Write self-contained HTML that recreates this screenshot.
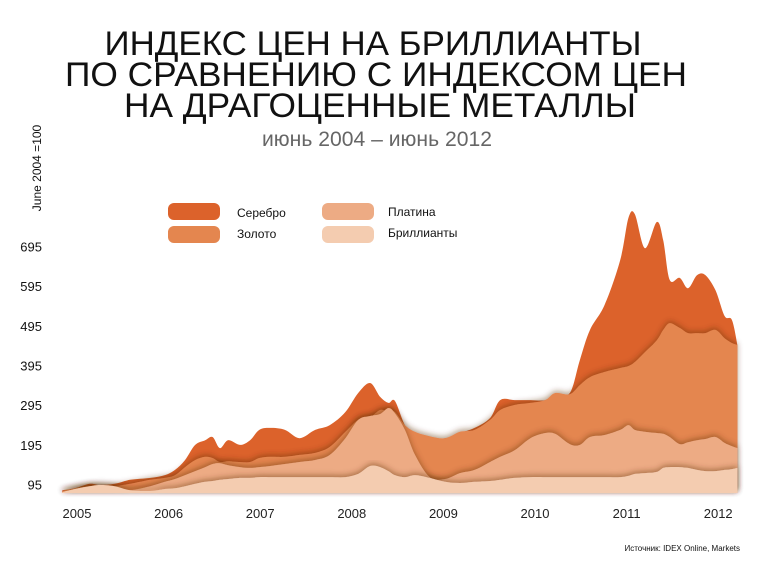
<!DOCTYPE html>
<html><head><meta charset="utf-8"><style>
html,body{margin:0;padding:0;background:#fff;}
svg{display:block;font-family:"Liberation Sans","Noto Sans CJK SC",sans-serif;}
</style></head><body>
<svg id="chart" width="757" height="567" viewBox="0 0 757 567">
<defs>
<filter id="sh" x="-5%" y="-20%" width="110%" height="140%">
<feDropShadow dx="0" dy="-2" stdDeviation="3" flood-color="#5a2a10" flood-opacity="0.45"/>
</filter>
</defs>
<g fill="#111" font-size="34" text-anchor="middle">
<text x="373" y="55" textLength="537" lengthAdjust="spacingAndGlyphs">ИНДЕКС ЦЕН НА БРИЛЛИАНТЫ</text>
<text x="376" y="86" textLength="622" lengthAdjust="spacingAndGlyphs">ПО СРАВНЕНИЮ С ИНДЕКСОМ ЦЕН</text>
<text x="380" y="117" textLength="512" lengthAdjust="spacingAndGlyphs">НА ДРАГОЦЕННЫЕ МЕТАЛЛЫ</text>
</g>
<text x="377" y="146" font-size="21" fill="#666" text-anchor="middle" textLength="230" lengthAdjust="spacingAndGlyphs">июнь 2004 – июнь 2012</text>
<text transform="translate(41,168) rotate(-90)" font-size="12" fill="#111" text-anchor="middle">June 2004 =100</text>
<g id="yticks"></g>
<g id="xticks"></g>
<g id="areas"></g>
<g font-size="12" fill="#111">
<g><rect x="168" y="203" width="52" height="17" rx="6" fill="#dc622b"/><text x="237" y="217">Серебро</text></g>
<g><rect x="168" y="226" width="52" height="17" rx="6" fill="#e4864f"/><text x="237" y="238">Золото</text></g>
<g><rect x="322" y="203" width="52" height="17" rx="6" fill="#edab84"/><text x="388" y="216">Платина</text></g>
<g><rect x="322" y="226" width="52" height="17" rx="6" fill="#f4ccb0"/><text x="388" y="237">Бриллианты</text></g>
</g>
<text x="740" y="551" font-size="8" fill="#111" text-anchor="end">Источник: IDEX Online, Markets</text>
</svg>
<script>
const dates=[2004.84,2004.98,2005.14,2005.25,2005.41,2005.58,2005.80,2005.96,2006.07,2006.18,2006.29,2006.40,2006.48,2006.56,2006.65,2006.78,2006.89,2006.99,2007.11,2007.27,2007.43,2007.60,2007.76,2007.93,2008.07,2008.20,2008.31,2008.40,2008.47,2008.58,2008.69,2008.85,2009.02,2009.18,2009.34,2009.51,2009.62,2009.78,2009.95,2010.11,2010.22,2010.38,2010.49,2010.60,2010.76,2010.93,2011.02,2011.09,2011.20,2011.33,2011.40,2011.47,2011.58,2011.67,2011.77,2011.86,2011.97,2012.07,2012.15,2012.21];
const silver=[82,87,98,95,98,108,113,120,133,158,196,208,216,188,208,196,208,234,239,234,213,234,246,279,327,352,317,302,307,246,221,213,213,226,239,264,309,309,309,309,324,327,410,486,549,662,768,778,692,758,712,612,617,591,624,624,586,521,511,448];
const gold=[80,87,92,90,92,98,108,113,120,140,158,166,163,153,155,153,153,163,166,166,171,176,191,229,259,266,284,280,279,246,229,218,213,229,234,259,284,297,302,309,327,324,347,367,380,390,395,405,430,460,486,503,491,478,478,478,486,465,453,448];
const platinum=[77,85,92,90,85,82,92,103,110,120,130,140,148,150,145,140,138,140,143,148,153,158,171,213,259,269,274,289,276,234,171,115,110,125,133,153,166,183,213,226,224,198,196,216,221,234,246,234,229,226,224,216,198,203,208,211,216,201,193,188];
const diamonds=[77,85,92,95,92,82,80,85,87,92,98,103,105,108,110,113,113,115,115,115,115,115,115,115,123,143,140,130,120,115,120,113,103,100,103,105,108,113,115,115,115,115,115,115,115,115,118,123,125,128,138,140,140,138,133,130,130,133,135,138];
const yTicks=[95,195,295,395,495,595,695];
const xTicks=[2005,2006,2007,2008,2009,2010,2011,2012];
const seriesNames=['silver','gold','platinum','diamonds'];
const colors=['#dc622b','#e4864f','#edab84','#f4ccb0'];
const NS='http://www.w3.org/2000/svg';
function xs(t){return 77+(t-2005)*91.6;}
function ys(v){return 485-(v-95)*0.3967;}
const baseY=493;
const yg=document.getElementById('yticks');
yTicks.forEach(v=>{
  const t=document.createElementNS(NS,'text');
  
  
  t.setAttribute('x',42);t.setAttribute('y',ys(v)+4.5);
  t.setAttribute('text-anchor','end');t.setAttribute('font-size','13');t.setAttribute('fill','#111');
  t.textContent=v;yg.appendChild(t);
});
const xg=document.getElementById('xticks');
xTicks.forEach(v=>{
  const t=document.createElementNS(NS,'text');
  
  
  t.setAttribute('x',xs(v));t.setAttribute('y',518);
  t.setAttribute('text-anchor','middle');t.setAttribute('font-size','13');t.setAttribute('fill','#222');
  t.textContent=v;xg.appendChild(t);
});
function smoothPath(vals){
  const p=dates.map((d,i)=>[xs(d),ys(vals[i])]);
  let d='M'+p[0][0].toFixed(1)+','+baseY+' L'+p[0][0].toFixed(1)+','+p[0][1].toFixed(1);
  for(let i=0;i<p.length-1;i++){
    const p0=p[i-1]||p[i],p1=p[i],p2=p[i+1],p3=p[i+2]||p2;
    const c1=[p1[0]+(p2[0]-p0[0])/6,p1[1]+(p2[1]-p0[1])/6];
    const c2=[p2[0]-(p3[0]-p1[0])/6,p2[1]-(p3[1]-p1[1])/6];
    d+=' C'+c1.map(n=>n.toFixed(1)).join(',')+' '+c2.map(n=>n.toFixed(1)).join(',')+' '+p2.map(n=>n.toFixed(1)).join(',');
  }
  d+=' L'+p[p.length-1][0].toFixed(1)+','+baseY+' Z';
  return d;
}
const ag=document.getElementById('areas');
[silver,gold,platinum,diamonds].forEach((vals,i)=>{
  const path=document.createElementNS(NS,'path');
  
  
  path.setAttribute('d',smoothPath(vals));
  path.setAttribute('fill',colors[i]);
  if(i>0)path.setAttribute('filter','url(#sh)');
  ag.appendChild(path);
});
</script>
</body></html>
